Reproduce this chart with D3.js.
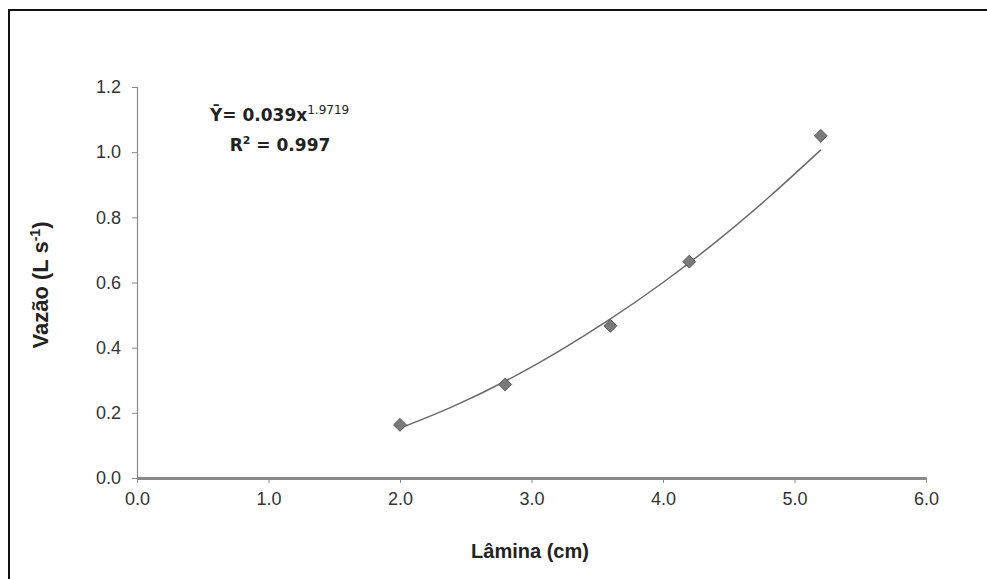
<!DOCTYPE html>
<html lang="pt">
<head>
<meta charset="UTF-8">
<title>Vazão x Lâmina</title>
<script src="https://d3js.org/d3.v7.min.js"></script>
<style>
  body { margin: 0; background: #fff; }
  svg text { font-family: "Liberation Sans", Arial, sans-serif; }
</style>
</head>
<body>
<div id="fig"></div>
<script>
// observed points
const lamina = [2.0, 2.8, 3.6, 4.2, 5.2];
const vazao = [0.163, 0.287, 0.467, 0.664, 1.05];
// trend curve
const trendX = [2.0, 2.4, 2.8, 3.2, 3.6, 4.0, 4.4, 4.8, 5.2];
const trendY = [0.153, 0.219, 0.297, 0.387, 0.488, 0.600, 0.724, 0.860, 1.007];
const xTicks = [0, 1, 2, 3, 4, 5, 6];
const yTicks = [0, 0.2, 0.4, 0.6, 0.8, 1.0, 1.2];

const W = 987, H = 579;
const svg = d3.select("#fig").append("svg")
    .attr("width", W).attr("height", H);

// outer frame
svg.append("rect")
    .attr("x", 9).attr("y", 10)
    .attr("width", 990).attr("height", 600)
    .attr("fill", "none").attr("stroke", "#111").attr("stroke-width", 2);

let x = d3.scaleLinear().domain([0, 6]).range([137, 926]);
let y = d3.scaleLinear().domain([0, 1.2]).range([478, 87]);

// y axis
let gy = svg.append("g").attr("transform", "translate(137,0)")
    .call(d3.axisLeft(y).tickValues(yTicks).tickFormat(d3.format(".1f"))
        .tickSize(5).tickSizeOuter(5).tickPadding(11));
gy.select(".domain").attr("stroke", "#8a8a8a").attr("stroke-width", 1.2);
gy.selectAll(".tick line").attr("stroke", "#8a8a8a");
gy.selectAll(".tick text").attr("font-size", 18).attr("fill", "#333");

// x axis
let gx = svg.append("g").attr("transform", "translate(0,478)")
    .call(d3.axisBottom(x).tickValues(xTicks).tickFormat(d3.format(".1f"))
        .tickSize(5).tickSizeOuter(0).tickPadding(9));
gx.select(".domain").attr("stroke", "#8a8a8a").attr("stroke-width", 3);
gx.selectAll(".tick line").attr("stroke", "#8a8a8a");
gx.selectAll(".tick text").attr("font-size", 18).attr("fill", "#333");

// trend line
let line = d3.line().x(d => x(d[0])).y(d => y(d[1])).curve(d3.curveMonotoneX);
svg.append("path")
    .datum(d3.zip(trendX, trendY))
    .attr("d", line)
    .attr("fill", "none").attr("stroke", "#6a6a6a").attr("stroke-width", 1.5);

// markers
svg.selectAll(".pt").data(d3.zip(lamina, vazao)).join("path")
    .attr("class", "pt")
    .attr("d", d3.symbol(d3.symbolDiamond2, 105))
    .attr("transform", d => `translate(${x(d[0])},${y(d[1])})`)
    .attr("fill", "#7a7a7a").attr("stroke", "#555").attr("stroke-width", 1);

// axis titles
svg.append("text")
    .attr("x", 530).attr("y", 558)
    .attr("text-anchor", "middle")
    .attr("font-size", 20).attr("font-weight", "bold").attr("fill", "#222")
    .text("Lâmina (cm)");

let yt = svg.append("text")
    .attr("transform", "translate(48,285) rotate(-90)")
    .attr("text-anchor", "middle")
    .attr("font-size", 22).attr("font-weight", "bold").attr("fill", "#222");
yt.append("tspan").text("Vazão (L s");
yt.append("tspan").attr("dy", -8).attr("font-size", 14).text("-1");
yt.append("tspan").attr("dy", 8).text(")");

// equation
let eq = svg.append("text")
    .attr("x", 210).attr("y", 121)
    .attr("font-family", "DejaVu Sans")
    .attr("font-size", 17).attr("font-weight", "bold").attr("fill", "#222");
eq.append("tspan").attr("font-family", "DejaVu Sans").text("Y\u0304= 0.039x");
eq.append("tspan").attr("dy", -7).attr("font-family", "DejaVu Sans")
    .attr("font-size", 12).attr("font-weight", "normal").text("1.9719");

let r2 = svg.append("text")
    .attr("x", 280).attr("y", 151)
    .attr("text-anchor", "middle")
    .attr("font-family", "DejaVu Sans")
    .attr("font-size", 17).attr("font-weight", "bold").attr("fill", "#222");
r2.append("tspan").attr("font-family", "DejaVu Sans").text("R");
r2.append("tspan").attr("dy", -7).attr("font-family", "DejaVu Sans").attr("font-size", 11).text("2");
r2.append("tspan").attr("dy", 7).attr("font-family", "DejaVu Sans").text(" = 0.997");
</script>
</body>
</html>
